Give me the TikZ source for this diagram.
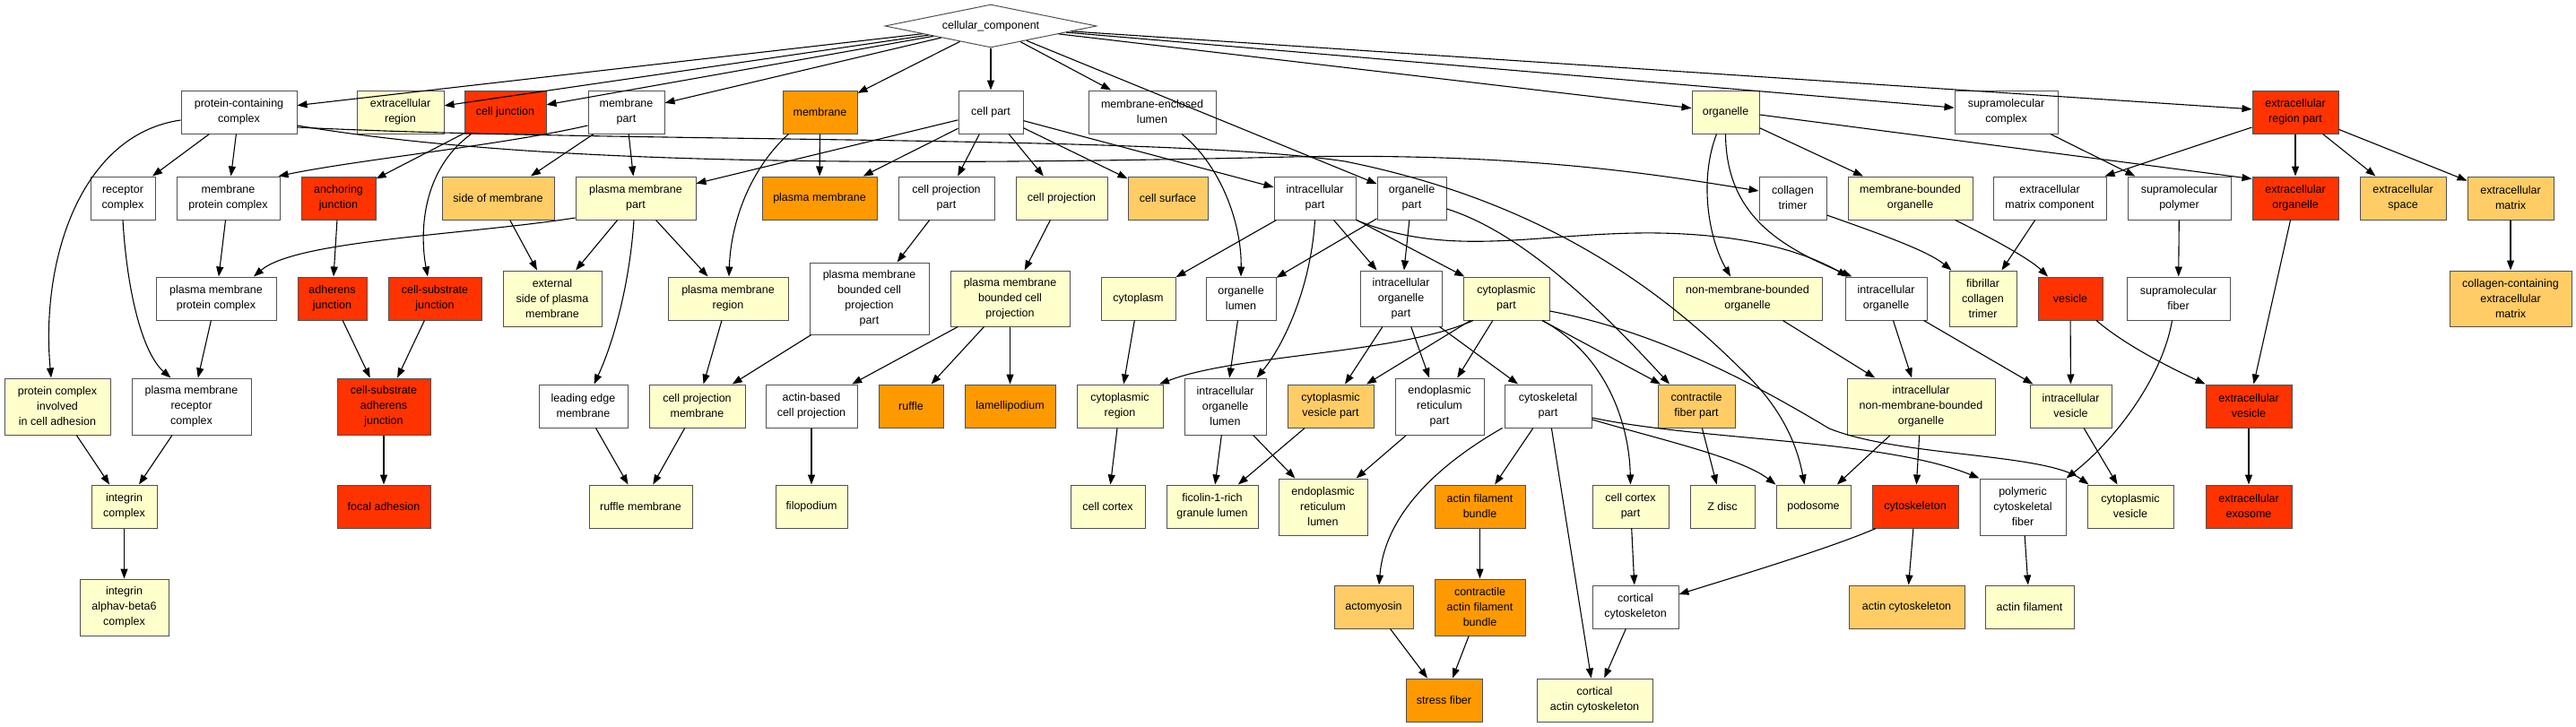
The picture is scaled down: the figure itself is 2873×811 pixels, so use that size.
\documentclass[tikz,border=0pt]{standalone}
\usepackage{fontspec}
\setmainfont{Liberation Sans}
\usetikzlibrary{shapes.geometric,arrows.meta}
\definecolor{pale}{HTML}{FFFFCC}
\definecolor{gold}{HTML}{FFCC66}
\definecolor{amber}{HTML}{FF9900}
\definecolor{scarlet}{HTML}{FF3300}
\definecolor{boxline}{HTML}{505050}
\tikzset{
  term/.style={draw=boxline, line width=1pt, fill=white, align=center, inner sep=0pt,
    minimum height=48, font=\fontsize{12.5}{17}\selectfont},
  link/.style={draw=black, line width=1.1pt, -{Triangle[length=11pt,width=8pt]}}
}
\begin{document}
\begin{tikzpicture}[x=1pt, y=-1pt]
  \useasboundingbox (0,0) rectangle (2873,811);
  % Kořen a první řada
  \node[term, diamond, aspect=4.9, minimum width=236, minimum height=48] (cc) at (1105,29) {cellular\_component};
  \node[term, minimum width=129] (pcc) at (266.5,125) {protein-containing\\complex};
  \node[term, fill=pale, minimum width=97] (extreg) at (446.5,125) {extracellular\\region};
  \node[term, fill=scarlet, minimum width=91] (celljunc) at (563.5,125) {cell junction};
  \node[term, minimum width=85] (mempart) at (698.5,125) {membrane\\part};
  \node[term, fill=amber, minimum width=83] (membrane) at (914.5,125) {membrane};
  \node[term, minimum width=72] (cellpart) at (1105,125) {cell part};
  \node[term, minimum width=142] (melumen) at (1285,125) {membrane-enclosed\\lumen};
  \node[term, fill=pale, minimum width=75] (organelle) at (1924.5,125) {organelle};
  \node[term, minimum width=115] (supracomplex) at (2237.5,125) {supramolecular\\complex};
  \node[term, fill=scarlet, minimum width=96] (extregpart) at (2560,125) {extracellular\\region part};

  % druhá řada
  \node[term, minimum width=72] (rcpx) at (137,221) {receptor\\complex};
  \node[term, minimum width=115] (mpc) at (254.5,221) {membrane\\protein complex};
  \node[term, fill=scarlet, minimum width=83] (anchjunc) at (377.5,221) {anchoring\\junction};
  \node[term, fill=gold, minimum width=125] (sidemem) at (555.5,221) {side of membrane};
  \node[term, fill=pale, minimum width=134] (pmpart) at (709,221) {plasma membrane\\part};
  \node[term, fill=amber, minimum width=128] (pm) at (914,221) {plasma membrane};
  \node[term, minimum width=107] (cpp) at (1055.5,221) {cell projection\\part};
  \node[term, fill=pale, minimum width=102] (cproj) at (1184,221) {cell projection};
  \node[term, fill=gold, minimum width=89] (csurf) at (1302.5,221) {cell surface};
  \node[term, minimum width=91] (icpart) at (1466.5,221) {intracellular\\part};
  \node[term, minimum width=77] (orgpart) at (1574.5,221) {organelle\\part};
  \node[term, minimum width=75] (coltrimer) at (1999.5,221) {collagen\\trimer};
  \node[term, fill=pale, minimum width=139] (mbo) at (2130.5,221) {membrane-bounded\\organelle};
  \node[term, minimum width=126] (ecmc) at (2286,221) {extracellular\\matrix component};
  \node[term, minimum width=115] (suprapoly) at (2430.5,221) {supramolecular\\polymer};
  \node[term, fill=scarlet, minimum width=96] (extorg) at (2560,221) {extracellular\\organelle};
  \node[term, fill=gold, minimum width=96] (extspace) at (2680,221) {extracellular\\space};
  \node[term, fill=gold, minimum width=96] (extmatrix) at (2800,221) {extracellular\\matrix};

  % třetí řada
  \node[term, minimum width=134] (pmpc) at (241,333) {plasma membrane\\protein complex};
  \node[term, fill=scarlet, minimum width=77] (adhjunc) at (370.5,333) {adherens\\junction};
  \node[term, fill=scarlet, minimum width=104] (csjunc) at (485,333) {cell-substrate\\junction};
  \node[term, fill=pale, minimum width=110, minimum height=62] (extside) at (616,333) {external\\side of plasma\\membrane};
  \node[term, fill=pale, minimum width=134] (pmregion) at (812,333) {plasma membrane\\region};
  \node[term, minimum width=133, minimum height=80] (pmbcpp) at (969.5,333) {plasma membrane\\bounded cell\\projection\\part};
  \node[term, fill=pale, minimum width=133, minimum height=62] (pmbcp) at (1126.5,333) {plasma membrane\\bounded cell\\projection};
  \node[term, fill=pale, minimum width=83] (cytoplasm) at (1269.5,333) {cytoplasm};
  \node[term, minimum width=78] (orglumen) at (1384,333) {organelle\\lumen};
  \node[term, minimum width=91, minimum height=62] (icorgpart) at (1562.5,333) {intracellular\\organelle\\part};
  \node[term, fill=pale, minimum width=96] (cytopart) at (1680,333) {cytoplasmic\\part};
  \node[term, fill=pale, minimum width=166] (nmbo) at (1949,333) {non-membrane-bounded\\organelle};
  \node[term, minimum width=91] (icorg) at (2103.5,333) {intracellular\\organelle};
  \node[term, fill=pale, minimum width=75, minimum height=62] (fibcol) at (2211.5,333) {fibrillar\\collagen\\trimer};
  \node[term, fill=scarlet, minimum width=72] (vesicle) at (2309,333) {vesicle};
  \node[term, minimum width=115] (suprafiber) at (2429.5,333) {supramolecular\\fiber};
  \node[term, fill=gold, minimum width=136, minimum height=62] (ccecm) at (2800,333) {collagen-containing\\extracellular\\matrix};

  % čtvrtá řada
  \node[term, fill=pale, minimum width=118, minimum height=63] (pcic) at (64,453.5) {protein complex\\involved\\in cell adhesion};
  \node[term, minimum width=133, minimum height=63] (pmrc) at (213.5,453.5) {plasma membrane\\receptor\\complex};
  \node[term, fill=scarlet, minimum width=104, minimum height=63] (csaj) at (428,453.5) {cell-substrate\\adherens\\junction};
  \node[term, minimum width=99] (lemem) at (650.5,453) {leading edge\\membrane};
  \node[term, fill=pale, minimum width=107] (cpmem) at (777.5,453) {cell projection\\membrane};
  \node[term, minimum width=102] (abcp) at (905,453) {actin-based\\cell projection};
  \node[term, fill=amber, minimum width=72] (ruffle) at (1016,453) {ruffle};
  \node[term, fill=amber, minimum width=101] (lamelli) at (1126.5,453) {lamellipodium};
  \node[term, fill=pale, minimum width=96] (cytoregion) at (1249,453) {cytoplasmic\\region};
  \node[term, minimum width=91, minimum height=63] (icorglumen) at (1366.5,453.5) {intracellular\\organelle\\lumen};
  \node[term, fill=gold, minimum width=96] (cvpart) at (1484,453) {cytoplasmic\\vesicle part};
  \node[term, minimum width=99, minimum height=63] (erpart) at (1605.5,453.5) {endoplasmic\\reticulum\\part};
  \node[term, minimum width=97] (cskpart) at (1726.5,453) {cytoskeletal\\part};
  \node[term, fill=gold, minimum width=86] (cfpart) at (1892,453) {contractile\\fiber part};
  \node[term, fill=pale, minimum width=165, minimum height=63] (inmbo) at (2142.5,453.5) {intracellular\\non-membrane-bounded\\organelle};
  \node[term, fill=pale, minimum width=91] (icvesicle) at (2309.5,453) {intracellular\\vesicle};
  \node[term, fill=scarlet, minimum width=96] (extves) at (2508,453) {extracellular\\vesicle};

  % pátá řada
  \node[term, fill=pale, minimum width=73] (intcpx) at (138.5,565) {integrin\\complex};
  \node[term, fill=scarlet, minimum width=104] (focaladh) at (428,565) {focal adhesion};
  \node[term, fill=pale, minimum width=115] (rufflemem) at (714.5,565) {ruffle membrane};
  \node[term, fill=pale, minimum width=80] (filopod) at (905,565) {filopodium};
  \node[term, fill=pale, minimum width=83] (cellcortex) at (1235.5,565) {cell cortex};
  \node[term, fill=pale, minimum width=102] (ficolin) at (1352,565) {ficolin-1-rich\\granule lumen};
  \node[term, fill=pale, minimum width=99, minimum height=63] (erlumen) at (1475.5,565.5) {endoplasmic\\reticulum\\lumen};
  \node[term, fill=amber, minimum width=101] (afbundle) at (1650.5,565) {actin filament\\bundle};
  \node[term, fill=pale, minimum width=85] (cortpart) at (1818.5,565) {cell cortex\\part};
  \node[term, fill=pale, minimum width=72] (zdisc) at (1921,565) {Z disc};
  \node[term, fill=pale, minimum width=83] (podosome) at (2022.5,565) {podosome};
  \node[term, fill=scarlet, minimum width=96] (cytoskel) at (2136,565) {cytoskeleton};
  \node[term, minimum width=96, minimum height=63] (pcfiber) at (2256,565.5) {polymeric\\cytoskeletal\\fiber};
  \node[term, fill=pale, minimum width=96] (cytovesicle) at (2376,565) {cytoplasmic\\vesicle};
  \node[term, fill=scarlet, minimum width=96] (exosome) at (2508,565) {extracellular\\exosome};

  % šestá a sedmá řada
  \node[term, fill=pale, minimum width=99, minimum height=63] (intab6) at (138.5,677.5) {integrin\\alphav-beta6\\complex};
  \node[term, fill=gold, minimum width=88] (actomyosin) at (1532,677) {actomyosin};
  \node[term, fill=amber, minimum width=101, minimum height=63] (cafbundle) at (1650.5,677.5) {contractile\\actin filament\\bundle};
  \node[term, minimum width=96] (cortcsk) at (1824,677) {cortical\\cytoskeleton};
  \node[term, fill=gold, minimum width=129] (actincsk) at (2126.5,677) {actin cytoskeleton};
  \node[term, fill=pale, minimum width=99] (actinfil) at (2263.5,677) {actin filament};
  \node[term, fill=amber, minimum width=85] (stressfiber) at (1610.5,781) {stress fiber};
  \node[term, fill=pale, minimum width=129] (cortactin) at (1778.5,781) {cortical\\actin cytoskeleton};

  % hrany z kořene
  \draw[link] (cc) -- (pcc);
  \draw[link] (cc) -- (extreg);
  \draw[link] (cc) -- (celljunc);
  \draw[link] (cc) -- (mempart);
  \draw[link] (cc) -- (membrane);
  \draw[link] (cc) -- (cellpart);
  \draw[link] (cc) -- (melumen);
  \draw[link] (cc) -- (orgpart);
  \draw[link] (cc) -- (organelle);
  \draw[link] (cc) -- (supracomplex);
  \draw[link] (cc) -- (extregpart);

  % levá část
  \draw[link] (pcc) -- (rcpx);
  \draw[link] (pcc) -- (mpc);
  \draw[link] ([yshift=-9pt]pcc.west) .. controls (90,150) and (45,290) .. ([xshift=-7pt]pcic.north);
  \draw[link] ([yshift=-15pt]pcc.east) .. controls (600,185) and (1000,185) .. (1440,175) .. controls (1700,170) and (1850,195) .. ([yshift=8pt]coltrimer.west);
  \draw[link] ([yshift=-17pt]pcc.east) .. controls (700,160) and (1300,150) .. (1500,180) .. controls (1750,230) and (1880,350) .. (1950,420) .. controls (1990,460) and (2005,500) .. ([xshift=-10pt]podosome.north);
  \draw[link] (celljunc) -- (anchjunc);
  \draw[link] ([xshift=-38pt]celljunc.south) .. controls (470,190) and (468,260) .. ([xshift=-8pt]csjunc.north);
  \draw[link] ([yshift=-15pt]mempart.west) .. controls (560,162) and (400,178) .. ([xshift=-2pt]mpc.north east);
  \draw[link] (mempart) -- (sidemem);
  \draw[link] (mempart) -- (pmpart);
  \draw[link] (membrane) -- (pm);
  \draw[link] ([xshift=-35pt]membrane.south) .. controls (835,190) and (815,250) .. ([xshift=1pt]pmregion.north);
  \draw[link] (cellpart) -- (pmpart);
  \draw[link] (cellpart) -- (pm);
  \draw[link] (cellpart) -- (cpp);
  \draw[link] (cellpart) -- (cproj);
  \draw[link] (cellpart) -- (csurf);
  \draw[link] (cellpart) -- (icpart);
  \draw[link] (rcpx.south) .. controls (142,330) and (160,395) .. ([xshift=-23pt]pmrc.north);
  \draw[link] (mpc) -- (pmpc);
  \draw[link] (pmpc) -- (pmrc);
  \draw[link] (pcic) -- (intcpx);
  \draw[link] (pmrc) -- (intcpx);
  \draw[link] (intcpx) -- (intab6);
  \draw[link] (anchjunc) -- (adhjunc);
  \draw[link] (adhjunc) -- (csaj);
  \draw[link] (csjunc) -- (csaj);
  \draw[link] (csaj) -- (focaladh);
  \draw[link] (sidemem) -- (extside);
  \draw[link] (pmpart) -- (extside);
  \draw[link] (pmpart) -- (pmregion);
  \draw[link] ([yshift=-22pt]pmpart.west) .. controls (520,262) and (330,268) .. ([xshift=42pt]pmpc.north);
  \draw[link] ([xshift=-2pt]pmpart.south) .. controls (702,320) and (683,385) .. ([xshift=12pt]lemem.north);
  \draw[link] (pmregion) -- (cpmem);
  \draw[link] (pmbcpp) -- (cpmem);
  \draw[link] (cpp) -- (pmbcpp);
  \draw[link] (cproj) -- (pmbcp);
  \draw[link] (pmbcp) -- (abcp);
  \draw[link] (pmbcp) -- (ruffle);
  \draw[link] (pmbcp) -- (lamelli);
  \draw[link] (lemem) -- (rufflemem);
  \draw[link] (cpmem) -- (rufflemem);
  \draw[link] (abcp) -- (filopod);

  % střed
  \draw[link] ([xshift=33pt]melumen.south) .. controls (1362,185) and (1385,250) .. (orglumen.north);
  \draw[link] (orgpart) -- (icorgpart);
  \draw[link] (orgpart) -- (orglumen);
  \draw[link] ([yshift=-12pt]orgpart.east) .. controls (1700,260) and (1790,350) .. ([xshift=-30pt]cfpart.north);
  \draw[link] (icpart) -- (cytoplasm);
  \draw[link] (icpart) -- (icorgpart);
  \draw[link] (icpart) -- (cytopart);
  \draw[link] (icpart.south) .. controls (1462,320) and (1432,385) .. ([xshift=35pt]icorglumen.north);
  \draw[link] (icpart.south east) .. controls (1620,290) and (1720,258) .. (1850,260) .. controls (1960,262) and (2020,285) .. ([xshift=3pt]icorg.north west);
  \draw[link] (cytoplasm) -- (cytoregion);
  \draw[link] (orglumen) -- (icorglumen);
  \draw[link] (icorgpart) -- (cvpart);
  \draw[link] (icorgpart) -- (erpart);
  \draw[link] (icorgpart) -- (cskpart);
  \draw[link] (cytopart) -- (cvpart);
  \draw[link] (cytopart) -- (erpart);
  \draw[link] ([xshift=-37pt]cytopart.south) .. controls (1560,395) and (1380,395) .. ([xshift=44pt]cytoregion.north);
  \draw[link] ([xshift=40pt]cytopart.south) .. controls (1790,395) and (1817,470) .. (cortpart.north);
  \draw[link] ([xshift=40pt]cytopart.south) -- ([xshift=-40pt]cfpart.north);
  \draw[link] ([yshift=-14pt]cytopart.east) .. controls (1850,370) and (1960,430) .. (2040,478) .. controls (2120,510) and (2280,505) .. ([xshift=2pt]cytovesicle.north west);
  \draw[link] (cytoregion) -- (cellcortex);
  \draw[link] (icorglumen) -- (ficolin);
  \draw[link] (icorglumen) -- (erlumen);
  \draw[link] (cvpart) -- (ficolin);
  \draw[link] (erpart) -- (erlumen);
  \draw[link] (cskpart) -- (afbundle);
  \draw[link] (cskpart) -- (cortactin);
  \draw[link] ([xshift=-2pt]cskpart.south west) .. controls (1610,515) and (1545,570) .. ([xshift=6pt]actomyosin.north);
  \draw[link] ([yshift=-15pt]cskpart.east) .. controls (1850,490) and (1940,510) .. (podosome.north west);
  \draw[link] ([yshift=-13pt]cskpart.east) .. controls (1900,492) and (2100,490) .. (pcfiber.north west);
  \draw[link] (afbundle) -- (cafbundle);
  \draw[link] (cafbundle) -- (stressfiber);
  \draw[link] (actomyosin) -- (stressfiber);
  \draw[link] (cortpart) -- (cortcsk);
  \draw[link] (cortcsk) -- (cortactin);
  \draw[link] (cfpart) -- (zdisc);

  % pravá část
  \draw[link] (organelle) -- (mbo);
  \draw[link] (organelle.south) .. controls (1925,240) and (1985,275) .. ([xshift=8pt]icorg.north west);
  \draw[link] ([xshift=-10pt]organelle.south) .. controls (1895,200) and (1905,265) .. ([xshift=-19pt]nmbo.north);
  \draw[link] ([yshift=-3pt]organelle.east) -- ([yshift=-3pt]extorg.north west);
  \draw[link] (supracomplex) -- (suprapoly);
  \draw[link] ([yshift=-17pt]extregpart.west) -- ([xshift=-2pt]ecmc.north east);
  \draw[link] (extregpart) -- (extorg);
  \draw[link] (extregpart) -- (extspace);
  \draw[link] (extregpart) -- (extmatrix);
  \draw[link] (extmatrix) -- (ccecm);
  \draw[link] ([yshift=-19pt]coltrimer.east) .. controls (2100,262) and (2150,280) .. ([xshift=-35pt]fibcol.north);
  \draw[link] (ecmc) -- (fibcol);
  \draw[link] ([xshift=50pt]mbo.south) .. controls (2230,270) and (2265,290) .. ([xshift=-25pt]vesicle.north);
  \draw[link] (suprapoly) -- (suprafiber);
  \draw[link] (nmbo) -- (inmbo);
  \draw[link] (icorg) -- (inmbo);
  \draw[link] (icorg) -- (icvesicle);
  \draw[link] (vesicle) -- (icvesicle);
  \draw[link] ([xshift=29pt]vesicle.south) .. controls (2370,385) and (2420,410) .. (extves.north west);
  \draw[link] (extorg) -- (extves);
  \draw[link] ([xshift=-7pt]suprafiber.south) .. controls (2412,420) and (2360,490) .. (pcfiber.north east);
  \draw[link] (extves) -- (exosome);
  \draw[link] (inmbo) -- (podosome);
  \draw[link] (inmbo) -- (cytoskel);
  \draw[link] (icvesicle) -- (cytovesicle);
  \draw[link] (pcfiber) -- (actinfil);
  \draw[link] ([xshift=-44pt]cytoskel.south) .. controls (2040,612) and (1930,645) .. ([yshift=14pt]cortcsk.east);
  \draw[link] (cytoskel) -- (actincsk);
\end{tikzpicture}
\end{document}
